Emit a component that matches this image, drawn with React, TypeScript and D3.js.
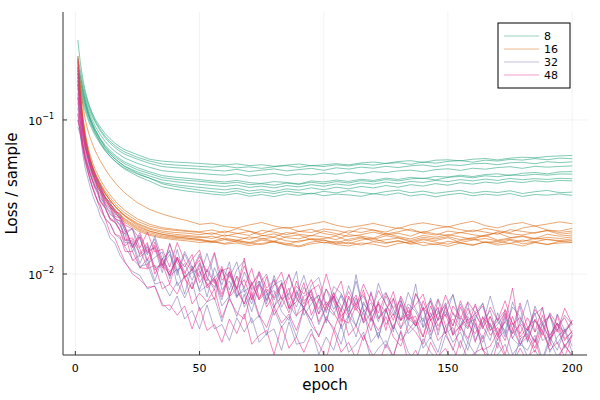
import React from 'react';
import * as d3 from 'd3';

const epochsSmooth = [1, 2, 3, 4, 5, 6, 7, 8, 10, 12, 14, 16, 18, 20, 25, 30, 35, 40, 45, 50, 55, 60, 65, 70, 75, 80, 85, 90, 95, 100, 105, 110, 115, 120, 125, 130, 135, 140, 145, 150, 155, 160, 165, 170, 175, 180, 185, 190, 195, 200];
const epochsNoisy = [1, 2, 3, 4, 5, 6, 7, 8, 9, 10, 12, 14, 16, 18, 20, 23, 26, 29, 32, 35, 38, 41, 44, 47, 50, 53, 56, 59, 62, 65, 68, 71, 74, 77, 80, 83, 86, 89, 92, 95, 98, 101, 104, 107, 110, 113, 116, 119, 122, 125, 128, 131, 134, 137, 140, 143, 146, 149, 152, 155, 158, 161, 164, 167, 170, 173, 176, 179, 182, 185, 188, 191, 194, 197, 200];

const loss8 = [
  [3300, 2350, 1850, 1540, 1340, 1200, 1090, 1010, 900, 815, 755, 705, 668, 640, 595, 555, 540, 533, 528, 522, 515, 510, 519, 505, 512, 500, 509, 518, 504, 512, 520, 511, 526, 533, 522, 537, 544, 530, 548, 551, 543, 556, 562, 550, 565, 573, 568, 579, 584, 588],
  [2600, 2100, 1720, 1480, 1300, 1170, 1070, 985, 870, 785, 725, 680, 645, 618, 572, 540, 518, 510, 505, 500, 494, 502, 489, 496, 485, 497, 505, 492, 506, 498, 511, 503, 517, 509, 522, 528, 515, 533, 524, 538, 545, 532, 548, 541, 555, 549, 561, 552, 565, 560],
  [2200, 1900, 1620, 1410, 1250, 1130, 1040, 965, 850, 765, 705, 660, 625, 598, 556, 522, 498, 490, 485, 480, 473, 466, 478, 462, 472, 481, 467, 476, 485, 471, 489, 480, 494, 486, 500, 491, 504, 510, 497, 512, 506, 519, 523, 512, 527, 531, 520, 536, 528, 535],
  [2000, 1750, 1520, 1340, 1190, 1080, 985, 910, 805, 725, 668, 625, 592, 565, 522, 492, 468, 460, 455, 450, 443, 438, 447, 432, 441, 449, 436, 446, 440, 452, 444, 458, 447, 462, 455, 467, 472, 461, 476, 482, 470, 486, 479, 491, 497, 485, 500, 494, 499, 503],
  [1900, 1650, 1440, 1270, 1130, 1020, 935, 865, 760, 685, 632, 590, 558, 532, 490, 460, 435, 425, 418, 410, 402, 396, 405, 392, 387, 398, 393, 384, 402, 396, 407, 399, 412, 405, 419, 411, 424, 416, 430, 426, 438, 429, 442, 447, 436, 451, 456, 447, 460, 462],
  [1800, 1600, 1400, 1240, 1100, 1000, 915, 845, 745, 670, 618, 577, 545, 518, 475, 448, 422, 412, 405, 400, 392, 386, 394, 380, 385, 377, 389, 382, 394, 385, 398, 390, 404, 397, 410, 402, 414, 419, 408, 424, 430, 421, 434, 428, 440, 436, 444, 438, 446, 445],
  [1700, 1520, 1340, 1190, 1060, 960, 880, 815, 720, 648, 598, 558, 527, 500, 460, 432, 408, 398, 390, 382, 376, 370, 378, 365, 372, 362, 375, 368, 380, 371, 384, 376, 390, 383, 395, 386, 399, 393, 405, 398, 410, 402, 413, 405, 417, 409, 416, 411, 418, 415],
  [1600, 1440, 1280, 1140, 1020, 925, 850, 790, 700, 630, 580, 540, 510, 485, 445, 418, 392, 380, 372, 365, 358, 352, 360, 346, 353, 343, 357, 350, 362, 352, 366, 357, 370, 362, 375, 366, 380, 372, 386, 377, 391, 383, 395, 388, 400, 392, 403, 396, 405, 402],
  [2400, 1950, 1580, 1340, 1160, 1030, 940, 865, 750, 665, 605, 560, 525, 497, 450, 418, 385, 370, 360, 350, 343, 336, 347, 332, 341, 333, 345, 337, 331, 344, 336, 348, 339, 331, 343, 350, 337, 345, 334, 342, 349, 335, 344, 338, 347, 333, 342, 349, 337, 340],
  [2100, 1800, 1500, 1280, 1110, 990, 900, 828, 715, 635, 580, 538, 505, 478, 432, 400, 368, 355, 345, 338, 330, 325, 334, 320, 328, 318, 331, 324, 335, 322, 330, 326, 319, 332, 325, 336, 321, 329, 317, 327, 334, 322, 330, 324, 333, 319, 328, 325, 331, 324],
];

const loss16 = [
  [2600, 1700, 1250, 1000, 860, 760, 690, 630, 545, 480, 430, 392, 360, 335, 290, 262, 245, 232, 222, 210, 214, 203, 199, 208, 216, 205, 198, 204, 211, 219, 207, 200, 206, 213, 204, 197, 209, 215, 208, 202, 212, 220, 206, 199, 210, 216, 205, 211, 218, 212],
  [2400, 1500, 1050, 820, 680, 590, 525, 478, 410, 362, 326, 298, 276, 258, 228, 210, 200, 195, 191, 188, 193, 185, 197, 190, 182, 195, 201, 189, 186, 196, 192, 184, 199, 193, 187, 200, 191, 185, 197, 203, 194, 188, 198, 191, 186, 199, 205, 193, 190, 198],
  [2200, 1400, 980, 770, 640, 555, 495, 452, 390, 345, 312, 286, 265, 248, 220, 204, 196, 192, 189, 186, 181, 190, 184, 178, 192, 187, 180, 189, 195, 183, 178, 191, 186, 193, 182, 188, 196, 184, 179, 190, 185, 193, 187, 181, 194, 189, 184, 192, 186, 190],
  [2000, 1350, 950, 740, 615, 535, 478, 435, 375, 332, 300, 275, 256, 240, 213, 198, 190, 186, 184, 180, 185, 176, 183, 189, 178, 174, 186, 181, 177, 190, 183, 175, 180, 187, 179, 184, 176, 189, 182, 178, 186, 180, 175, 188, 183, 179, 186, 191, 181, 185],
  [2300, 1450, 1000, 770, 630, 545, 485, 440, 378, 333, 300, 274, 254, 238, 210, 195, 186, 181, 178, 175, 170, 179, 174, 168, 177, 182, 172, 169, 178, 174, 167, 180, 176, 171, 183, 175, 169, 178, 173, 180, 174, 168, 179, 185, 172, 177, 170, 181, 176, 179],
  [1900, 1300, 910, 710, 590, 512, 457, 415, 358, 316, 285, 261, 243, 228, 202, 189, 181, 177, 175, 172, 176, 168, 165, 174, 170, 163, 175, 179, 167, 170, 176, 164, 171, 168, 177, 172, 165, 173, 169, 175, 167, 172, 178, 166, 171, 175, 168, 173, 170, 174],
  [2100, 1380, 950, 730, 600, 518, 460, 418, 358, 315, 283, 259, 240, 225, 198, 185, 177, 173, 171, 168, 163, 171, 166, 160, 169, 173, 164, 161, 170, 166, 159, 168, 174, 163, 167, 171, 162, 169, 165, 172, 160, 166, 170, 164, 168, 162, 171, 167, 165, 169],
  [1800, 1250, 890, 700, 580, 502, 448, 407, 350, 308, 278, 254, 236, 221, 195, 181, 174, 170, 168, 165, 160, 167, 162, 157, 166, 161, 155, 164, 168, 159, 163, 157, 166, 170, 160, 163, 158, 167, 161, 156, 165, 169, 160, 163, 158, 166, 162, 168, 163, 165],
  [2500, 1550, 1050, 800, 655, 562, 498, 450, 383, 336, 301, 274, 253, 236, 206, 190, 181, 175, 171, 167, 162, 158, 164, 160, 155, 163, 158, 152, 161, 166, 157, 160, 154, 162, 158, 165, 156, 161, 155, 163, 159, 153, 162, 158, 166, 157, 161, 155, 163, 161],
  [1700, 1200, 860, 680, 565, 490, 437, 398, 342, 302, 272, 249, 231, 216, 191, 178, 171, 167, 164, 160, 163, 156, 159, 153, 158, 162, 154, 150, 157, 161, 155, 152, 159, 156, 150, 158, 162, 153, 157, 151, 159, 155, 161, 154, 158, 152, 160, 156, 159, 160],
];

const loss32 = [
  [1800, 1150, 840, 660, 600, 530, 480, 440, 410, 370, 320, 285, 262, 236, 200, 151, 179, 138, 169, 113, 134, 98, 135, 106, 135, 95, 79, 108, 95, 120, 77, 84, 103, 67, 85, 91, 59, 72, 98, 67, 73, 56, 83, 75, 57, 90, 59, 49, 67, 76, 59, 50, 76, 59, 49, 67, 40, 62, 73, 50, 44, 57, 64, 45, 52, 39, 66, 48, 43, 55, 60, 38, 48, 42, 49],
  [1300, 980, 760, 620, 540, 475, 425, 388, 352, 330, 272, 255, 222, 210, 166, 163, 117, 155, 110, 115, 143, 84, 96, 107, 79, 108, 91, 68, 103, 72, 78, 57, 85, 76, 60, 88, 64, 53, 72, 77, 47, 61, 54, 74, 61, 46, 66, 53, 39, 59, 69, 45, 52, 46, 60, 40, 51, 65, 41, 46, 36, 54, 46, 37, 56, 41, 48, 35, 43, 56, 37, 40, 48, 33, 41],
  [2200, 1300, 880, 680, 580, 500, 445, 412, 362, 348, 285, 270, 228, 222, 192, 140, 174, 116, 128, 139, 93, 144, 95, 102, 108, 71, 110, 85, 120, 71, 82, 64, 90, 68, 93, 61, 75, 104, 54, 64, 73, 48, 76, 62, 52, 70, 48, 77, 52, 60, 42, 67, 52, 86, 45, 53, 60, 41, 56, 45, 65, 37, 48, 58, 40, 49, 41, 62, 36, 50, 43, 55, 35, 43, 47],
  [1000, 860, 690, 580, 505, 445, 400, 362, 340, 298, 268, 228, 216, 192, 160, 158, 109, 126, 90, 127, 97, 108, 74, 113, 77, 84, 93, 62, 72, 96, 61, 74, 52, 74, 78, 57, 50, 76, 60, 50, 67, 50, 72, 44, 54, 46, 64, 55, 38, 58, 44, 64, 41, 46, 52, 38, 58, 41, 45, 33, 53, 45, 36, 48, 33, 53, 38, 34, 44, 36, 48, 31, 39, 44, 34],
  [1600, 1150, 840, 680, 595, 522, 465, 425, 385, 368, 300, 282, 244, 236, 188, 197, 167, 133, 176, 125, 140, 102, 140, 111, 96, 136, 95, 107, 79, 107, 122, 78, 86, 100, 68, 83, 98, 71, 59, 85, 95, 63, 72, 57, 84, 63, 72, 54, 87, 63, 54, 70, 47, 74, 61, 52, 69, 53, 74, 46, 55, 62, 47, 72, 49, 43, 61, 53, 39, 62, 47, 54, 43, 54, 47],
  [1100, 800, 600, 485, 420, 365, 322, 292, 270, 238, 208, 170, 158, 132, 118, 104, 98, 80, 84, 64, 58, 72, 51, 58, 44, 63, 44, 47, 37, 52, 42, 52, 36, 41, 44, 32, 49, 35, 36, 44, 30, 39, 32, 47, 31, 35, 42, 28, 33, 37, 29, 43, 31, 27, 38, 31, 28, 40, 33, 26, 36, 30, 40, 27, 30, 35, 26, 38, 29, 32, 27, 37, 29, 34, 30],
  [1400, 930, 680, 540, 470, 410, 365, 332, 298, 283, 230, 212, 180, 170, 150, 125, 112, 116, 86, 89, 72, 89, 70, 89, 58, 66, 70, 49, 71, 53, 74, 48, 54, 40, 59, 45, 53, 39, 60, 46, 40, 51, 45, 35, 53, 39, 58, 36, 42, 33, 47, 37, 43, 50, 33, 39, 31, 46, 36, 42, 32, 48, 32, 29, 38, 43, 30, 35, 32, 40, 28, 39, 32, 43, 31],
  [900, 800, 660, 560, 500, 445, 402, 370, 348, 312, 285, 244, 232, 206, 182, 197, 129, 143, 147, 102, 159, 105, 117, 91, 118, 90, 136, 79, 90, 70, 103, 80, 90, 64, 98, 68, 75, 61, 82, 70, 55, 80, 59, 72, 54, 99, 57, 65, 49, 72, 56, 50, 64, 57, 45, 70, 50, 57, 46, 64, 48, 51, 65, 43, 47, 56, 38, 48, 68, 42, 49, 37, 55, 43, 50],
];

const loss48 = [
  [2500, 1450, 960, 750, 630, 545, 482, 432, 402, 355, 315, 270, 256, 225, 200, 148, 175, 122, 161, 121, 98, 129, 111, 134, 88, 105, 87, 112, 72, 97, 82, 109, 70, 80, 70, 87, 60, 90, 67, 74, 59, 80, 66, 49, 70, 58, 79, 50, 64, 57, 77, 50, 58, 46, 67, 50, 61, 41, 62, 53, 45, 64, 45, 53, 39, 59, 48, 41, 52, 42, 61, 37, 46, 52, 41],
  [1700, 1150, 820, 660, 570, 498, 443, 402, 360, 344, 280, 264, 228, 220, 165, 172, 145, 109, 154, 115, 99, 128, 95, 107, 123, 81, 92, 71, 99, 80, 127, 68, 86, 61, 74, 86, 60, 66, 88, 54, 69, 58, 72, 53, 61, 73, 48, 56, 64, 43, 70, 50, 55, 46, 61, 42, 68, 46, 51, 43, 60, 47, 38, 53, 42, 49, 81, 39, 45, 36, 54, 40, 48, 37, 43],
  [1200, 920, 710, 590, 515, 455, 406, 370, 344, 302, 272, 230, 220, 192, 182, 122, 133, 150, 106, 117, 86, 128, 93, 80, 104, 87, 68, 107, 71, 81, 64, 89, 68, 77, 54, 66, 81, 54, 60, 71, 49, 62, 75, 51, 48, 62, 55, 43, 66, 47, 55, 44, 61, 48, 39, 56, 43, 61, 40, 46, 51, 36, 53, 40, 45, 37, 53, 38, 41, 33, 47, 38, 44, 34, 40],
  [1400, 1050, 800, 650, 570, 505, 452, 412, 372, 355, 292, 276, 236, 232, 203, 149, 186, 137, 150, 109, 156, 118, 101, 125, 143, 95, 82, 105, 110, 80, 92, 68, 104, 81, 91, 69, 100, 69, 61, 79, 85, 61, 71, 90, 54, 65, 74, 56, 78, 64, 50, 72, 56, 63, 74, 50, 55, 63, 46, 67, 50, 55, 62, 43, 50, 58, 44, 65, 45, 50, 40, 56, 47, 41, 50],
  [1000, 840, 670, 560, 495, 438, 392, 356, 334, 295, 267, 225, 216, 190, 152, 168, 135, 160, 100, 125, 103, 125, 104, 80, 115, 84, 95, 74, 105, 78, 64, 86, 68, 96, 62, 71, 56, 78, 64, 79, 55, 66, 56, 46, 72, 60, 50, 75, 51, 59, 44, 63, 51, 53, 39, 62, 46, 55, 40, 61, 47, 41, 52, 47, 37, 55, 41, 47, 37, 51, 42, 34, 54, 38, 42],
  [2000, 1300, 930, 730, 625, 545, 485, 440, 395, 380, 310, 295, 252, 248, 208, 196, 148, 187, 139, 145, 111, 160, 121, 104, 130, 103, 138, 91, 103, 81, 113, 86, 99, 77, 85, 103, 68, 83, 74, 92, 67, 100, 68, 59, 77, 62, 86, 67, 56, 75, 60, 67, 50, 75, 58, 67, 50, 73, 55, 51, 66, 56, 44, 61, 50, 67, 47, 52, 43, 59, 49, 53, 42, 60, 47],
  [1500, 980, 700, 560, 470, 405, 358, 322, 298, 262, 230, 184, 170, 142, 120, 100, 92, 82, 83, 62, 63, 54, 62, 44, 61, 43, 47, 36, 51, 41, 55, 35, 40, 43, 30, 46, 33, 39, 31, 41, 35, 28, 43, 31, 36, 28, 40, 31, 26, 35, 29, 42, 27, 32, 25, 36, 29, 33, 26, 37, 28, 31, 33, 24, 36, 29, 26, 33, 27, 38, 26, 30, 27, 35, 29],
  [1100, 830, 640, 530, 460, 402, 360, 326, 292, 280, 228, 212, 181, 176, 140, 140, 110, 108, 114, 80, 86, 74, 98, 64, 75, 66, 80, 52, 69, 56, 51, 77, 54, 45, 62, 48, 55, 43, 60, 50, 39, 53, 43, 59, 40, 46, 37, 52, 43, 53, 39, 34, 47, 42, 35, 51, 37, 42, 32, 46, 38, 51, 32, 34, 42, 30, 44, 35, 39, 31, 43, 32, 36, 29, 40],
];

const seriesLabels = ['8', '16', '32', '48'];
const seriesColors = ['#1b9e77', '#d95f02', '#7570b3', '#e7298a'];
const xTicks = [0, 50, 100, 150, 200];
const yTicks = [0.01, 0.1];

const W = 600;
const H = 400;
const margin = { left: 63, right: 13, top: 12, bottom: 45 };

export default function App() {
  const x = d3.scaleLinear().domain([-4.97, 205.97]).range([margin.left, W - margin.right]);
  const y = d3.scaleLog().domain([0.00298, 0.502]).range([H - margin.bottom, margin.top]);
  const groups = [
    { runs: loss8, epochs: epochsSmooth },
    { runs: loss16, epochs: epochsSmooth },
    { runs: loss32, epochs: epochsNoisy },
    { runs: loss48, epochs: epochsNoisy },
  ];
  const x0 = margin.left;
  const x1 = W - margin.right;
  const y0 = H - margin.bottom;
  const y1 = margin.top;
  const font = 'DejaVu Sans, sans-serif';

  return (
    <svg width={W} height={H} style={{ position: 'fixed', left: 0, top: 0, background: '#fff' }} fontFamily={font}>
      <defs>
        <clipPath id="plotArea">
          <rect x={x0} y={y1} width={x1 - x0} height={y0 - y1} />
        </clipPath>
      </defs>
      {/* grid */}
      {xTicks.map((t) => (
        <line key={'gx' + t} x1={x(t)} x2={x(t)} y1={y0} y2={y1} stroke="#000" strokeOpacity={0.1} strokeWidth={0.5} />
      ))}
      {yTicks.map((t) => (
        <line key={'gy' + t} x1={x0} x2={x1} y1={y(t)} y2={y(t)} stroke="#000" strokeOpacity={0.1} strokeWidth={0.5} />
      ))}
      {/* curves */}
      <g clipPath="url(#plotArea)">
        {groups.map((g, gi) =>
          g.runs.map((run, ri) => {
            const line = d3
              .line<number>()
              .x((_, i) => x(g.epochs[i]))
              .y((v) => y(v * 1e-4));
            return (
              <path key={gi + '-' + ri} d={line(run) || ''} fill="none" stroke={seriesColors[gi]} strokeOpacity={0.55} strokeWidth={1} />
            );
          })
        )}
      </g>
      {/* axes */}
      <line x1={x0} x2={x0} y1={y1} y2={y0} stroke="#333" strokeWidth={1} />
      <line x1={x0} x2={x1} y1={y0} y2={y0} stroke="#333" strokeWidth={1} />
      {xTicks.map((t) => (
        <g key={'tx' + t}>
          <line x1={x(t)} x2={x(t)} y1={y0} y2={y0 - 4} stroke="#333" strokeWidth={1} />
          <text x={x(t)} y={y0 + 17} textAnchor="middle" fontSize={11} fill="#000">{t}</text>
        </g>
      ))}
      {yTicks.map((t) => (
        <g key={'ty' + t}>
          <line x1={x0} x2={x0 + 4} y1={y(t)} y2={y(t)} stroke="#333" strokeWidth={1} />
          <text x={x0 - 9} y={y(t) + 5} textAnchor="end" fontSize={11} fill="#000">
            10<tspan dy={-6} fontSize={8}>{'\u2212' + Math.round(-Math.log10(t))}</tspan>
          </text>
        </g>
      ))}
      <text x={(x0 + x1) / 2} y={390} textAnchor="middle" fontSize={15} fill="#000">epoch</text>
      <text transform={`translate(17, ${(y0 + y1) / 2}) rotate(-90)`} textAnchor="middle" fontSize={15} fill="#000">Loss / sample</text>
      {/* legend */}
      <rect x={498} y={23} width={72} height={65} fill="#fff" stroke="#000" strokeWidth={1} />
      {seriesLabels.map((lab, i) => (
        <g key={'lg' + lab}>
          <line x1={504} x2={539} y1={36 + i * 13} y2={36 + i * 13} stroke={seriesColors[i]} strokeOpacity={0.45} strokeWidth={1} />
          <text x={544} y={36 + i * 13 + 4} fontSize={11} fill="#000">{lab}</text>
        </g>
      ))}
    </svg>
  );
}
